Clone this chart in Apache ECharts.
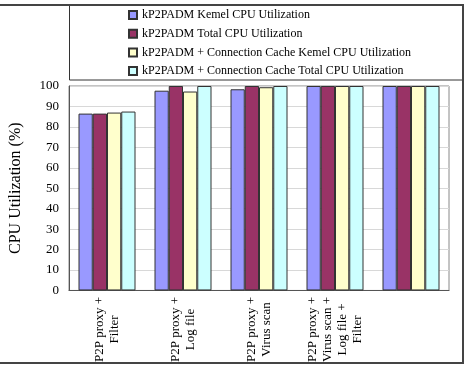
<!DOCTYPE html>
<html>
<head>
<meta charset="UTF-8">
<script src="https://cdn.jsdelivr.net/npm/echarts@6/dist/echarts.min.js"></script>
</head>
<body style="margin:0">
<div id="main" style="width:465px;height:365px;"></div>
<script>
var categories = ['P2P proxy +\nFilter', 'P2P proxy +\nLog file', 'P2P proxy +\nVirus scan',
    'P2P proxy +\nVirus scan +\nLog file +\nFilter', ''];
var seriesNames = ['kP2PADM Kemel CPU Utilization', 'kP2PADM Total CPU Utilization',
    'kP2PADM + Connection Cache Kemel CPU Utilization', 'kP2PADM + Connection Cache Total CPU Utilization'];
var kernelCpu = [86.5, 97.7, 98.4, 100, 100];
var totalCpu = [86.5, 100, 100, 100, 100];
var cacheKernelCpu = [87, 97.3, 99.4, 100, 100];
var cacheTotalCpu = [87.5, 100, 100, 100, 100];
var colors = ['#9999ff', '#993366', '#ffffcc', '#ccffff'];

var font = 'Liberation Serif';
var values = [kernelCpu, totalCpu, cacheKernelCpu, cacheTotalCpu];

var chart = echarts.init(document.getElementById('main'));
chart.setOption({
    animation: false,
    textStyle: { fontFamily: font },
    graphic: [
        { type: 'rect', shape: { x: -5, y: 5, width: 468, height: 358 },
          style: { fill: 'none', stroke: '#444', lineWidth: 2 }, silent: true },
        { type: 'rect', shape: { x: 69.5, y: 5, width: 393, height: 75 },
          style: { fill: '#fff', stroke: '#333', lineWidth: 1 }, silent: true, z: -1 }
    ],
    legend: {
        orient: 'vertical',
        left: 128,
        top: 9,
        padding: 0,
        itemWidth: 8,
        itemHeight: 8,
        itemGap: 6.7,
        icon: 'rect',
        textStyle: { fontFamily: font, fontSize: 12, color: '#000' },
        data: seriesNames
    },
    grid: {
        left: 68, right: 16, top: 86, bottom: 72,
        show: true, borderColor: '#888', borderWidth: 1
    },
    xAxis: {
        type: 'category',
        data: categories,
        axisLine: { lineStyle: { color: '#555' } },
        axisTick: { inside: true, length: 4, lineStyle: { color: '#777' } },
        axisLabel: {
            rotate: 90, align: 'center', verticalAlign: 'middle', margin: 39,
            interval: 0, lineHeight: 15,
            fontFamily: font, fontSize: 13, color: '#000'
        }
    },
    yAxis: {
        type: 'value', min: 0, max: 100, interval: 10,
        name: 'CPU Utilization (%)',
        nameLocation: 'middle',
        nameGap: 45,
        nameTextStyle: { fontFamily: font, fontSize: 16, color: '#000' },
        axisLine: { show: true, lineStyle: { color: '#555' } },
        axisTick: { show: false },
        axisLabel: { fontFamily: font, fontSize: 13, color: '#000', margin: 10 },
        splitLine: { lineStyle: { color: '#d8d8d8' } }
    },
    series: seriesNames.map(function (name, i) {
        return {
            name: name,
            type: 'bar',
            data: values[i],
            barGap: 0,
            barCategoryGap: '25%',
            itemStyle: { color: colors[i], borderColor: '#333', borderWidth: 1 }
        };
    })
});
</script>
</body>
</html>
